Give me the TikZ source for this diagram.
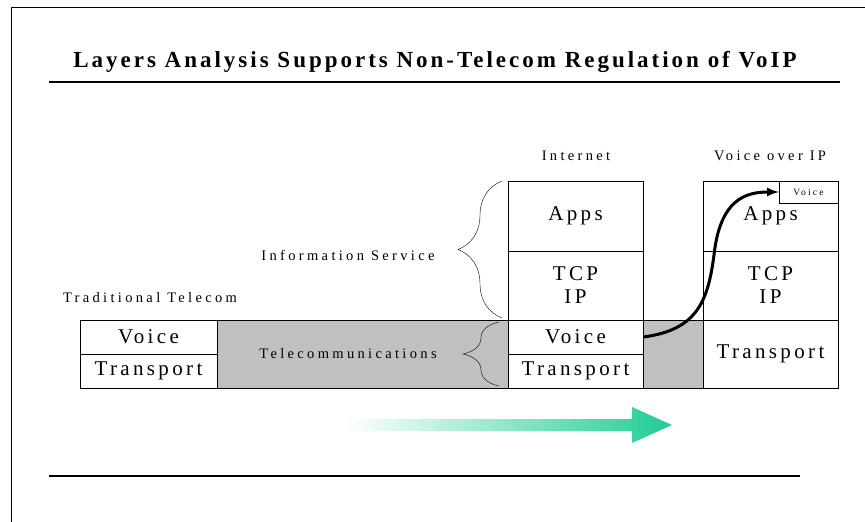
\documentclass[tikz,border=0pt]{standalone}
\usepackage{fontspec}
\setmainfont{Liberation Serif}
\newfontfamily\layerfont[LetterSpace=16]{Liberation Serif}
\newfontfamily\labelfont[LetterSpace=23]{Liberation Serif}
\newfontfamily\titlefont[LetterSpace=13]{Liberation Serif}
\usepackage{tikz}
\usetikzlibrary{calc,arrows,decorations.pathreplacing}
\definecolor{bandgray}{RGB}{192,192,192}
\definecolor{arrowgreen}{RGB}{32,204,150}

\begin{document}
\begin{tikzpicture}[x=1pt,y=-1pt]
                      \tikzstyle{layer}=[draw=black,fill=white,inner sep=0pt,minimum width=135pt,font=\layerfont\fontsize{21}{23}\selectfont,align=center]
                      \tikzstyle{caption}=[inner sep=0pt,font=\labelfont\fontsize{14.5}{16}\selectfont]
                      \useasboundingbox (0,0) rectangle (865,522);
                      \draw (11,522) -- (11,7) -- (865,7);
                      \node [inner sep=0pt,font=\titlefont\bfseries\fontsize{23}{25}\selectfont] (title) at (435,62) {Layers Analysis Supports Non-Telecom Regulation of VoIP};
                      \draw [line width=1.2pt] (49,82) -- (840,82);
                      \draw [line width=1.2pt] (49,476) -- (800,476);
                      \draw [fill=bandgray] (217,320) rectangle (703,388);
                      % traditional telecom
                      \node [layer,minimum width=137pt,minimum height=34pt] (tvoice) at (148.5,337) {Voice};
                      \node [layer,minimum width=137pt,minimum height=34pt] (ttrans) at (148.5,371) {Transport};
                      % internet
                      \node [layer,minimum height=70pt] (iapps) at (575.5,216) {Apps};
                      \node [layer,minimum height=69pt] (itcp) at (575.5,285.5) {TCP\\IP};
                      \node [layer,minimum height=34pt] (ivoice) at (575.5,337) {Voice};
                      \node [layer,minimum height=34pt] (itrans) at (575.5,371) {Transport};
                      % voice over ip
                      \node [layer,minimum height=70pt] (vapps) at (770.5,216) {Apps};
                      \node [layer,minimum height=69pt] (vtcp) at (770.5,285.5) {TCP\\IP};
                      \node [layer,minimum height=68pt] (vtrans) at (770.5,354) {Transport};
                      \node [draw=black,fill=white,inner sep=0pt,minimum width=59pt,minimum height=22pt,font=\labelfont\fontsize{9.5}{10}\selectfont] (svoice) at (808.5,192) {Voice};
                      \node [caption] (inet) at (576,156) {Internet};
                      \node [caption] (voip) at (770,156) {Voice over IP};
                      \node [caption] (trad) at (150,298) {Traditional Telecom};
                      \node [caption] (info) at (348,255) {Information Service};
                      \node [caption] (tele) at (348,354) {Telecommunications};
                      \draw [decorate,decoration={brace,amplitude=44pt}] (502,318) -- (502,181);
                      \draw [decorate,decoration={brace,amplitude=36pt}] (499,386) -- (499,322);
                      \coordinate (bend) at (714,255);
                      \draw [line width=3pt,-latex] (ivoice.east) .. controls (698,330) and (708,300) .. (bend) .. controls (720,200) and (745,192) .. (svoice.west);
                      \shade [left color=white,right color=arrowgreen] (345,419) -- (632,419) -- (632,407) -- (672,425) -- (632,443) -- (632,431) -- (345,431) -- cycle;
                  \end{tikzpicture}
\end{document}
